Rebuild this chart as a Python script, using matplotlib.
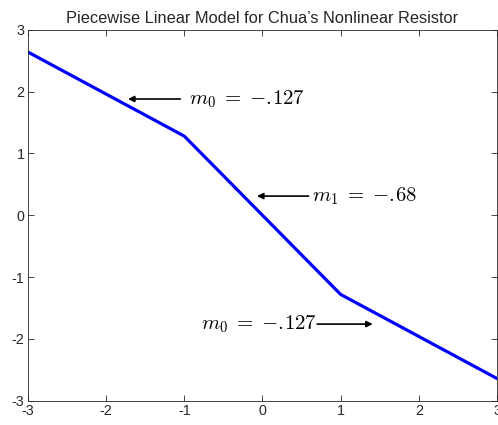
import matplotlib
matplotlib.use("Agg")
import matplotlib.pyplot as plt

# Breakpoints of the piecewise linear characteristic
x_break = [-3, -1, 1, 3]
y_break = [2.64, 1.28, -1.28, -2.64]

x_ticks = [-3, -2, -1, 0, 1, 2, 3]
y_ticks = [-3, -2, -1, 0, 1, 2, 3]

slope_labels = [r"$m_0 \;=\; {-}.\!127$", r"$m_1 \;=\; {-}.\!68$", r"$m_0 \;=\; {-}.\!127$"]

plt.rcParams["mathtext.fontset"] = "cm"
plt.rcParams["font.family"] = ["Liberation Sans", "DejaVu Sans"]

fig = plt.figure(figsize=(4.98, 4.25), dpi=100)
ax = fig.add_axes([0.056, 0.057, 0.942, 0.873])

ax.plot(x_break, y_break, color="#0000ff", linewidth=2.3, solid_joinstyle="miter")

ax.set_xlim(-3, 3)
ax.set_ylim(-3, 3)
ax.set_xticks(x_ticks)
ax.set_yticks(y_ticks)
ax.set_xticklabels([str(v) for v in x_ticks])
ax.set_yticklabels([str(v) for v in y_ticks])
ax.tick_params(direction="in", top=True, right=True, labelsize=10.3, length=4,
               width=0.6, color="#262626", labelcolor="#262626", pad=2.5)
for s in ax.spines.values():
    s.set_linewidth(0.6)
    s.set_color("#262626")

ax.set_title("Piecewise Linear Model for Chua\u2019s Nonlinear Resistor",
             fontsize=11.8, color="#262626", pad=5)

arrow = dict(arrowstyle="-|>", color="black", lw=1.2, mutation_scale=9,
             shrinkA=0, shrinkB=0)

# Outer segment on the left
ax.annotate("", xy=(-1.72, 1.88), xytext=(-1.05, 1.88), arrowprops=arrow)
ax.text(-0.94, 1.88, slope_labels[0], fontsize=15, va="center", ha="left")

# Inner segment
ax.annotate("", xy=(-0.07, 0.31), xytext=(0.59, 0.31), arrowprops=arrow)
ax.text(0.63, 0.31, slope_labels[1], fontsize=15, va="center", ha="left")

# Outer segment on the right
ax.annotate("", xy=(1.41, -1.76), xytext=(0.70, -1.76), arrowprops=arrow)
ax.text(0.70, -1.76, slope_labels[2], fontsize=15, va="center", ha="right")

fig.savefig("out.png", dpi=100)
